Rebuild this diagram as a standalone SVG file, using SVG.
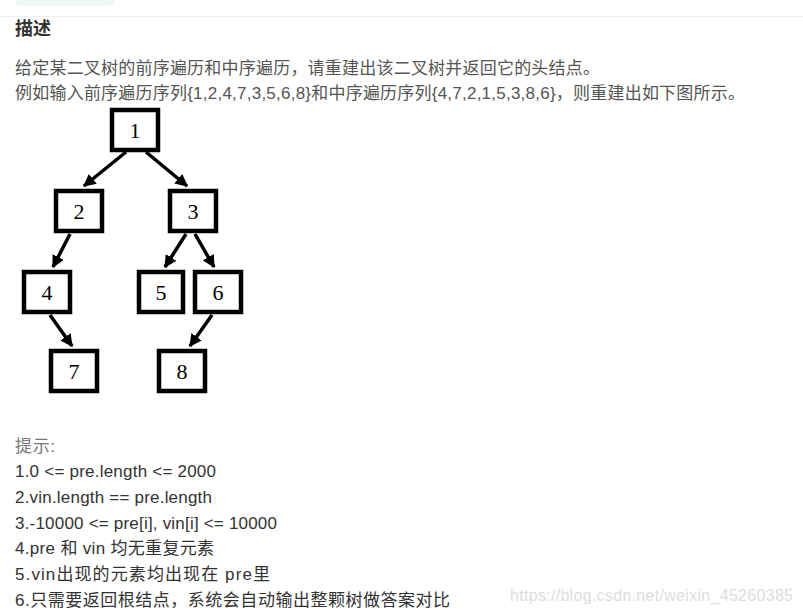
<svg xmlns="http://www.w3.org/2000/svg" width="803" height="613" viewBox="0 0 803 613">
<style>
.t{font-family:"Liberation Sans","Noto Sans CJK SC",sans-serif;font-size:17px;fill:#555}
.h{font-family:"Liberation Sans","Noto Sans CJK SC",sans-serif;font-size:17px;fill:#333}
.b rect{fill:#fff;stroke:#000;stroke-width:4.5}
.b text{font-family:"Liberation Serif",serif;font-size:22px;text-anchor:middle;fill:#000}
.e line{stroke:#000;stroke-width:3.5;marker-end:url(#a)}
</style>
<defs><marker id="a" viewBox="0 0 10 10" refX="9" refY="5" markerWidth="3.6" markerHeight="3.6" orient="auto"><path d="M0,0L10,5L0,10z"/></marker></defs>
<rect width="803" height="613" fill="#fff"/>
<rect x="15" y="-8" width="100" height="14" rx="5" fill="#eef8f6"/>
<line x1="0" y1="16.5" x2="803" y2="16.5" stroke="#eee"/>
<text x="15" y="35" font-family="Liberation Sans,Noto Sans CJK SC,sans-serif" font-size="18" font-weight="bold" fill="#333">描述</text>
<text class="t" x="15" y="74" textLength="585">给定某二叉树的前序遍历和中序遍历，请重建出该二叉树并返回它的头结点。</text>
<text class="t" x="15" y="99" textLength="730">例如输入前序遍历序列{1,2,4,7,3,5,6,8}和中序遍历序列{4,7,2,1,5,3,8,6}，则重建出如下图所示。</text>
<g class="e">
<line x1="126" y1="152" x2="84" y2="186"/>
<line x1="146" y1="152" x2="187" y2="186"/>
<line x1="70" y1="234" x2="53" y2="267"/>
<line x1="186" y1="234" x2="165" y2="267"/>
<line x1="195" y1="234" x2="214" y2="267"/>
<line x1="50" y1="315" x2="72" y2="346"/>
<line x1="212" y1="315" x2="190" y2="346"/>
</g>
<g id="n1" class="b"><rect x="112" y="110" width="46" height="40"/><text x="135" y="138">1</text></g>
<g id="n2" class="b"><rect x="56" y="191" width="46" height="40"/><text x="79" y="219">2</text></g>
<g id="n3" class="b"><rect x="170" y="191" width="46" height="40"/><text x="193" y="219">3</text></g>
<g id="n4" class="b"><rect x="24" y="272" width="46" height="40"/><text x="47" y="300">4</text></g>
<g id="n5" class="b"><rect x="139" y="272" width="44" height="40"/><text x="161" y="300">5</text></g>
<g id="n6" class="b"><rect x="195" y="272" width="46" height="40"/><text x="218" y="300">6</text></g>
<g id="n7" class="b"><rect x="51" y="351" width="46" height="40"/><text x="74" y="379">7</text></g>
<g id="n8" class="b"><rect x="159" y="351" width="46" height="40"/><text x="182" y="379">8</text></g>
<text class="h" x="15" y="452" fill="#777" style="fill:#777" textLength="40">提示:</text>
<text class="h" x="15" y="477" textLength="201">1.0 &lt;= pre.length &lt;= 2000</text>
<text class="h" x="15" y="503" textLength="197">2.vin.length == pre.length</text>
<text class="h" x="15" y="529" textLength="262">3.-10000 &lt;= pre[i], vin[i] &lt;= 10000</text>
<text class="h" x="15" y="554" textLength="199">4.pre 和 vin 均无重复元素</text>
<text class="h" x="15" y="580" textLength="255">5.vin出现的元素均出现在 pre里</text>
<text class="h" x="15" y="606" textLength="435">6.只需要返回根结点，系统会自动输出整颗树做答案对比</text>
<text x="510" y="601" font-family="Liberation Sans,sans-serif" font-size="16" fill="#ddd" textLength="283">https://blog.csdn.net/weixin_45260385</text>
</svg>
